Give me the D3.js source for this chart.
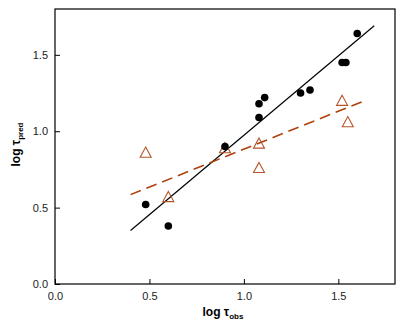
<!DOCTYPE html>
<html>
<head>
<meta charset="utf-8">
<script src="https://cdn.jsdelivr.net/npm/d3@7"></script>
<style>
  body { margin: 0; background: #fff; }
  text { font-family: "Liberation Sans", Arial, sans-serif; }
</style>
</head>
<body>
<div id="container"></div>
<script>
// observed vs predicted (filled circles)
var obsCircles  = [0.48, 0.60, 0.90, 1.08, 1.11, 1.08, 1.30, 1.35, 1.52, 1.54, 1.60];
var predCircles = [0.52, 0.38, 0.90, 1.18, 1.22, 1.09, 1.25, 1.27, 1.45, 1.45, 1.64];

// open triangles
var obsTri  = [0.48, 0.60, 0.90, 1.08, 1.08, 1.52, 1.55];
var predTri = [0.86, 0.57, 0.89, 0.92, 0.76, 1.20, 1.06];

// fit lines [x0, x1], [y0, y1]
var fitSolidX = [0.40, 1.69];
var fitSolidY = [0.35, 1.69];
var fitDashX = [0.40, 1.65];
var fitDashY = [0.585, 1.205];

var ticks = [0, 0.5, 1.0, 1.5];

var width = 405, height = 324;
var margin = {left: 55, top: 9, right: 10, bottom: 40};

var svg = d3.select("#container").append("svg")
    .attr("width", width)
    .attr("height", height);

var x = d3.scaleLinear().domain([0, 1.8]).range([margin.left, width - margin.right]);
var y = d3.scaleLinear().domain([0, 1.8]).range([height - margin.bottom, margin.top]);

// frame
svg.append("rect")
    .attr("x", x(0)).attr("y", y(1.8))
    .attr("width", x(1.8) - x(0)).attr("height", y(0) - y(1.8))
    .attr("fill", "none").attr("stroke", "#000").attr("stroke-width", 1.2);

var xAxis = d3.axisBottom(x).tickValues(ticks).tickFormat(d3.format(".1f"))
    .tickSizeInner(-5).tickSizeOuter(0).tickPadding(8);
var yAxis = d3.axisLeft(y).tickValues(ticks).tickFormat(d3.format(".1f"))
    .tickSizeInner(-5).tickSizeOuter(0).tickPadding(7);

var gx = svg.append("g")
    .attr("transform", "translate(0," + y(0) + ")")
    .call(xAxis);
var gy = svg.append("g")
    .attr("transform", "translate(" + x(0) + ",0)")
    .call(yAxis);

[gx, gy].forEach(function (g) {
    g.select(".domain").remove();
    g.selectAll("line").attr("stroke", "#000");
    g.selectAll("text").attr("font-size", 11).attr("fill", "#222")
        .style("font-family", "Liberation Sans, Arial, sans-serif");
});

// fit lines
svg.append("line")
    .attr("x1", x(fitSolidX[0])).attr("y1", y(fitSolidY[0]))
    .attr("x2", x(fitSolidX[1])).attr("y2", y(fitSolidY[1]))
    .attr("stroke", "#000").attr("stroke-width", 1.2);

svg.append("line")
    .attr("x1", x(fitDashX[0])).attr("y1", y(fitDashY[0]))
    .attr("x2", x(fitDashX[1])).attr("y2", y(fitDashY[1]))
    .attr("stroke", "#b0400c").attr("stroke-width", 1.6)
    .attr("stroke-dasharray", "11,6");

// triangles
var triSize = 5.5;
svg.selectAll(".tri")
    .data(obsTri)
    .enter()
    .append("path")
    .attr("class", "tri")
    .attr("d", function (d, i) {
        var cx = x(d), cy = y(predTri[i]);
        return "M" + cx + "," + (cy - triSize) +
               "L" + (cx + triSize) + "," + (cy + triSize * 0.85) +
               "L" + (cx - triSize) + "," + (cy + triSize * 0.85) + "Z";
    })
    .attr("fill", "none")
    .attr("stroke", "#b5532a")
    .attr("stroke-width", 1.1);

// circles
svg.selectAll(".dot")
    .data(obsCircles)
    .enter()
    .append("circle")
    .attr("class", "dot")
    .attr("cx", function (d) { return x(d); })
    .attr("cy", function (d, i) { return y(predCircles[i]); })
    .attr("r", 3.8)
    .attr("fill", "#000");

// axis labels
var xl = svg.append("text")
    .attr("x", (x(0) + x(1.8)) / 2 - 2)
    .attr("y", 316)
    .attr("text-anchor", "middle")
    .attr("font-weight", "bold")
    .attr("font-size", 12);
xl.append("tspan").text("log \u03c4");
xl.append("tspan").attr("font-size", 8).attr("dy", 3).text("obs");

var yl = svg.append("text")
    .attr("transform", "translate(20," + ((y(0) + y(1.8)) / 2 - 2) + ") rotate(-90)")
    .attr("text-anchor", "middle")
    .attr("font-weight", "bold")
    .attr("font-size", 12);
yl.append("tspan").text("log \u03c4");
yl.append("tspan").attr("font-size", 8).attr("dy", 3).text("pred");
</script>
</body>
</html>
